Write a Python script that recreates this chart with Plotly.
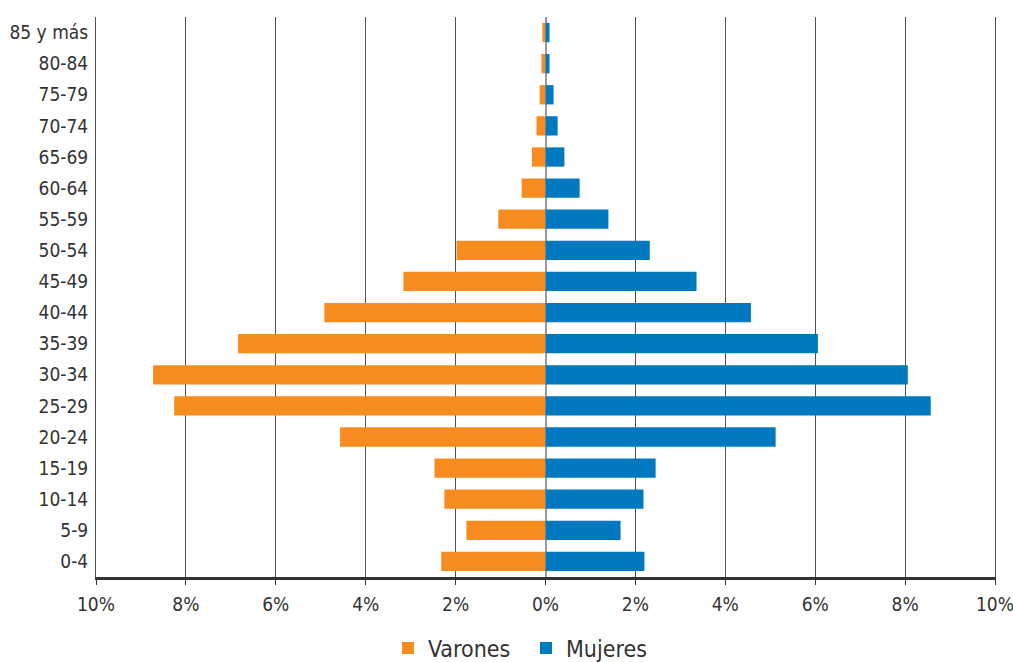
import plotly.graph_objects as go

# Age groups, bottom to top
age_groups = ["0-4", "5-9", "10-14", "15-19", "20-24", "25-29", "30-34", "35-39",
              "40-44", "45-49", "50-54", "55-59", "60-64", "65-69", "70-74",
              "75-79", "80-84", "85 y más"]

# Share of total population (%)
varones = [2.32, 1.76, 2.25, 2.47, 4.57, 8.26, 8.73, 6.84, 4.92, 3.16, 1.98,
           1.05, 0.53, 0.30, 0.20, 0.13, 0.09, 0.07]
mujeres = [2.20, 1.67, 2.18, 2.45, 5.12, 8.57, 8.06, 6.06, 4.57, 3.36, 2.32,
           1.40, 0.76, 0.42, 0.27, 0.18, 0.09, 0.09]

tick_values = [-10, -8, -6, -4, -2, 0, 2, 4, 6, 8, 10]
tick_labels = ["10%", "8%", "6%", "4%", "2%", "0%", "2%", "4%", "6%", "8%", "10%"]

ORANGE = "#F68B1F"
BLUE = "#0079C1"
FONT = "DejaVu Sans Condensed, Liberation Sans Narrow, sans-serif"

fig = go.Figure()
fig.add_trace(go.Bar(
    y=age_groups, x=[-v for v in varones], orientation="h",
    name="Varones", marker=dict(color=ORANGE, line=dict(width=0)),
))
fig.add_trace(go.Bar(
    y=age_groups, x=mujeres, orientation="h",
    name="Mujeres", marker=dict(color=BLUE, line=dict(width=0)),
))

fig.update_layout(
    width=1013, height=662,
    barmode="relative", bargap=0.38,
    plot_bgcolor="white", paper_bgcolor="white",
    margin=dict(l=96, r=18, t=17, b=85, autoexpand=False),
    font=dict(family=FONT, color="#333333", size=19),
    showlegend=True,
    legend=dict(orientation="h", x=0.383, xanchor="left", xref="container",
                y=-0.127, yanchor="middle", yref="paper",
                font=dict(size=23, color="#333333"), itemwidth=30,
                entrywidth=93, traceorder="normal"),
    xaxis=dict(
        range=[-10, 10], tickvals=tick_values, ticktext=tick_labels,
        showgrid=True, gridcolor="#505050", gridwidth=1,
        zeroline=True, zerolinecolor="#9a9a9a", zerolinewidth=1.5,
        showline=True, linecolor="#333333", linewidth=2.5,
        ticks="outside", ticklen=5, tickcolor="#333333", tickwidth=1,
        tickfont=dict(size=19, color="#333333"), automargin=False,
        ticklabelstandoff=3, ticklabeloverflow="allow",
    ),
    yaxis=dict(
        categoryorder="array", categoryarray=age_groups,
        showgrid=False, zeroline=False,
        showline=True, mirror=True, linecolor="#505050", linewidth=1,
        ticks="", tickfont=dict(size=19, color="#333333"),
        ticklabelstandoff=3, automargin=False,
    ),
)

fig.write_html("out.html")
